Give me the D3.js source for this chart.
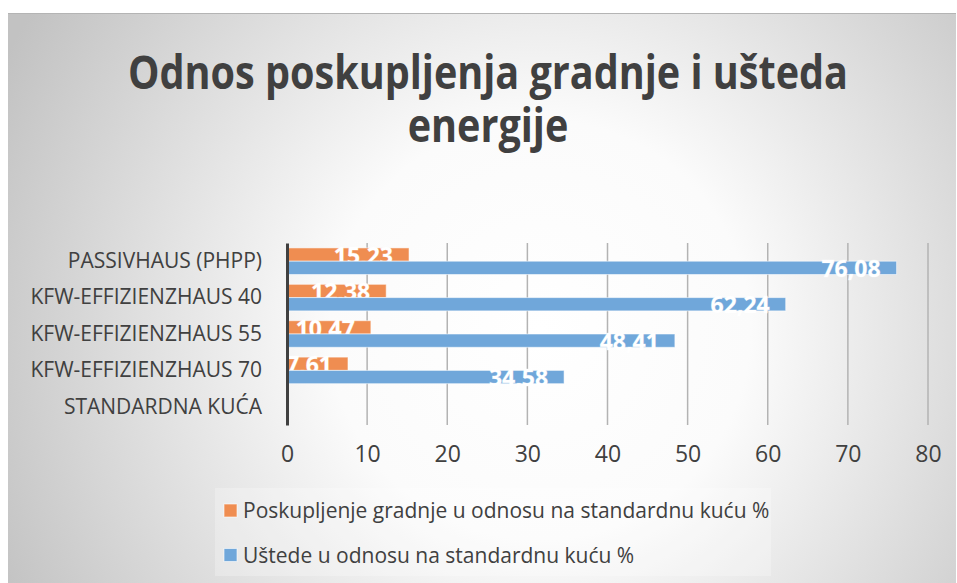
<!DOCTYPE html>
<html lang="hr">
<head>
    <meta charset="UTF-8">
    <title>Odnos poskupljenja gradnje i ušteda energije</title>
    <script src="https://d3js.org/d3.v7.min.js"></script>
    <style>
        body { margin: 0; background: #fff; }
        text { font-family: "Open Sans", "DejaVu Sans", sans-serif; }
        .cat text { font-size: 21px; fill: #404040; }
        .xaxis text { font-size: 23px; fill: #404040; }
        .lbl { font-size: 23px; font-weight: 700; fill: #fff; }
        .legend text { font-size: 21px; fill: #404040; }
    </style>
</head>
<body>
<script>
    // data (top row first, as in the picture)
    var categories = ["PASSIVHAUS (PHPP)", "KFW-EFFIZIENZHAUS 40", "KFW-EFFIZIENZHAUS 55",
                      "KFW-EFFIZIENZHAUS 70", "STANDARDNA KUĆA"];
    var poskupljenje = [15.23, 12.38, 10.47, 7.61, null];
    var ustede = [76.08, 62.24, 48.41, 34.58, null];
    var seriesNames = ["Poskupljenje gradnje u odnosu na standardnu kuću %",
                       "Uštede u odnosu na standardnu kuću %"];
    var colors = ["#ef8d51", "#70a7da"];
    var xTicks = [0, 10, 20, 30, 40, 50, 60, 70, 80];

    var W = 957, H = 583;
    var svg = d3.select("body").append("svg")
        .attr("width", W)
        .attr("height", H);

    // background with radial gradient
    var defs = svg.append("defs");
    var grad = defs.append("radialGradient")
        .attr("id", "bg")
        .attr("gradientUnits", "userSpaceOnUse")
        .attr("cx", 540).attr("cy", 330).attr("r", 600);
    grad.append("stop").attr("offset", "0").attr("stop-color", "#ffffff");
    grad.append("stop").attr("offset", "0.35").attr("stop-color", "#fbfbfb");
    grad.append("stop").attr("offset", "1").attr("stop-color", "#c2c2c2");

    svg.append("rect")
        .attr("x", 8).attr("y", 13)
        .attr("width", W - 9).attr("height", H - 13)
        .attr("fill", "url(#bg)");
    svg.append("line")
        .attr("x1", 8).attr("x2", W - 1).attr("y1", 13.5).attr("y2", 13.5)
        .attr("stroke", "#b4b4b4");

    // title
    var title = svg.append("g").attr("class", "title");
    var t1 = title.append("text")
        .attr("y", 89)
        .attr("text-anchor", "middle")
        .style("font-size", "47px").style("font-weight", 700).style("fill", "#404040")
        .text("Odnos poskupljenja gradnje i ušteda");
    var t2 = title.append("text")
        .attr("y", 142)
        .attr("text-anchor", "middle")
        .style("font-size", "47px").style("font-weight", 700).style("fill", "#404040")
        .text("energije");
    // squeeze the title horizontally (original is a condensed face)
    var sx = 720 / t1.node().getComputedTextLength();
    title.attr("transform", "translate(488,0) scale(" + sx + ",1)");

    // scales
    var x = d3.scaleLinear().domain([0, 80]).range([287, 928]);
    var y = d3.scaleBand().domain(categories).range([243, 425])
        .paddingInner(0.27).paddingOuter(0.135);
    var ySub = d3.scaleBand().domain([0, 1]).range([0, y.bandwidth()]);

    // gridlines
    svg.append("g")
        .selectAll("line")
        .data(xTicks.slice(1))
        .enter().append("line")
        .attr("x1", function(d) { return x(d); })
        .attr("x2", function(d) { return x(d); })
        .attr("y1", 243).attr("y2", 425)
        .attr("stroke", "#b3b3b3")
        .attr("stroke-width", 1.5);

    // x axis labels
    var xAxis = svg.append("g")
        .attr("class", "xaxis")
        .attr("transform", "translate(0,440)")
        .call(d3.axisBottom(x).tickValues(xTicks).tickSize(0).tickPadding(0));
    xAxis.select(".domain").remove();
    xAxis.selectAll("text").attr("dy", "0.95em").attr("font-family", null);

    // bars
    var fmt = function(v) { return d3.format(".2f")(v).replace(".", ","); };
    var series = [poskupljenje, ustede];

    series.forEach(function(vals, si) {
        var g = svg.append("g");
        var rows = categories.map(function(c, i) { return {cat: c, v: vals[i]}; })
            .filter(function(d) { return d.v != null; });

        g.selectAll("rect")
            .data(rows)
            .enter().append("rect")
            .attr("x", x(0))
            .attr("y", function(d) { return y(d.cat) + ySub(si); })
            .attr("width", function(d) { return x(d.v) - x(0); })
            .attr("height", ySub.bandwidth())
            .attr("fill", colors[si])
            .attr("stroke", "rgba(255,255,255,0.55)")
            .attr("stroke-width", 1);

        g.selectAll("text")
            .data(rows)
            .enter().append("text")
            .attr("class", "lbl")
            .attr("x", function(d) { return x(d.v) - 16; })
            .attr("y", function(d) { return y(d.cat) + ySub(si) + ySub.bandwidth() + 2.5; })
            .attr("text-anchor", "end")
            .attr("stroke", "rgba(255,255,255,0.35)")
            .attr("stroke-width", 0.8)
            .text(function(d) { return fmt(d.v); });
    });

    // category axis
    var yAxis = svg.append("g")
        .attr("class", "cat")
        .attr("transform", "translate(287,0)")
        .call(d3.axisLeft(y).tickSize(0).tickPadding(25));
    yAxis.select(".domain")
        .attr("stroke", "#404040")
        .attr("stroke-width", 3);
    yAxis.selectAll("text").attr("font-family", null).attr("font-size", null);

    // legend
    var legend = svg.append("g").attr("class", "legend");
    legend.append("rect")
        .attr("x", 215).attr("y", 488)
        .attr("width", 556).attr("height", 88)
        .attr("fill", "rgba(255,255,255,0.25)");

    var items = legend.selectAll("g.item")
        .data(seriesNames)
        .enter().append("g")
        .attr("class", "item")
        .attr("transform", function(d, i) { return "translate(224," + (504 + i * 44.5) + ")"; });
    items.append("rect")
        .attr("width", 13).attr("height", 13)
        .attr("fill", function(d, i) { return colors[i]; })
        .attr("stroke", "rgba(255,255,255,0.6)");
    items.append("text")
        .attr("x", 19).attr("y", 14)
        .text(function(d) { return d; });
</script>
</body>
</html>
